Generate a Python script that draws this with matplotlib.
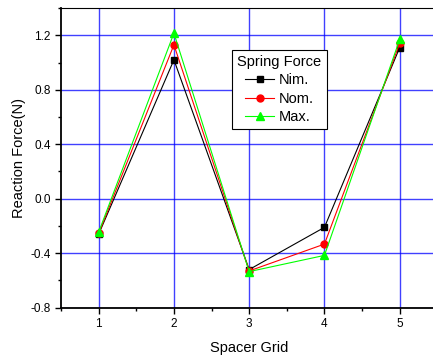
import matplotlib
matplotlib.use("Agg")
import matplotlib.pyplot as plt
from matplotlib.ticker import MultipleLocator

plt.rcParams["font.family"] = ["Liberation Sans", "DejaVu Sans"]

grids = [1, 2, 3, 4, 5]
nim = [-0.26, 1.02, -0.52, -0.21, 1.11]
nom = [-0.255, 1.13, -0.53, -0.333, 1.14]
mx = [-0.245, 1.216, -0.535, -0.416, 1.17]

fig = plt.figure(figsize=(4.33, 3.58), dpi=100)
ax = fig.add_axes([0.141, 0.1405, 0.869, 0.837])

ax.plot(grids, nim, color="black", marker="s", ms=5, lw=0.8, label="Nim.")
ax.plot(grids, nom, color="red", marker="o", ms=5, lw=0.8, label="Nom.")
ax.plot(grids, mx, color="#00ff00", marker="^", ms=6, lw=0.8, label="Max.")

ax.set_xlim(0.5, 5.5)
ax.set_ylim(-0.8, 1.4)
ax.xaxis.set_major_locator(MultipleLocator(1))
ax.xaxis.set_minor_locator(MultipleLocator(0.5))
ax.yaxis.set_minor_locator(MultipleLocator(0.2))
ax.set_yticks([-0.8, -0.4, 0.0, 0.4, 0.8, 1.2])
ax.set_yticklabels(["-0.8", "-0.4", "0.0", "0.4", "0.8", "1.2"])
ax.tick_params(which="major", direction="out", length=4, width=1, labelsize=8.5)
ax.tick_params(which="minor", direction="out", length=2.5, width=1)
ax.grid(True, which="major", color="blue", lw=1, alpha=0.75)
ax.set_axisbelow(True)
for side in ("left", "bottom"):
    ax.spines[side].set_linewidth(1.3)

ax.set_xlabel("Spacer Grid", fontsize=10.5, labelpad=8)
ax.set_ylabel("Reaction Force(N)", fontsize=10.5, labelpad=3)

leg = ax.legend(title="Spring Force", loc="upper left", bbox_to_anchor=(0.455, 0.86),
                borderaxespad=0, fontsize=10.5, title_fontsize=10.5, handlelength=2.0,
                handletextpad=0.3, borderpad=0.35, labelspacing=0.3, fancybox=False,
                framealpha=1, edgecolor="black")
leg.get_frame().set_linewidth(0.8)

fig.savefig("out.png", dpi=100)
